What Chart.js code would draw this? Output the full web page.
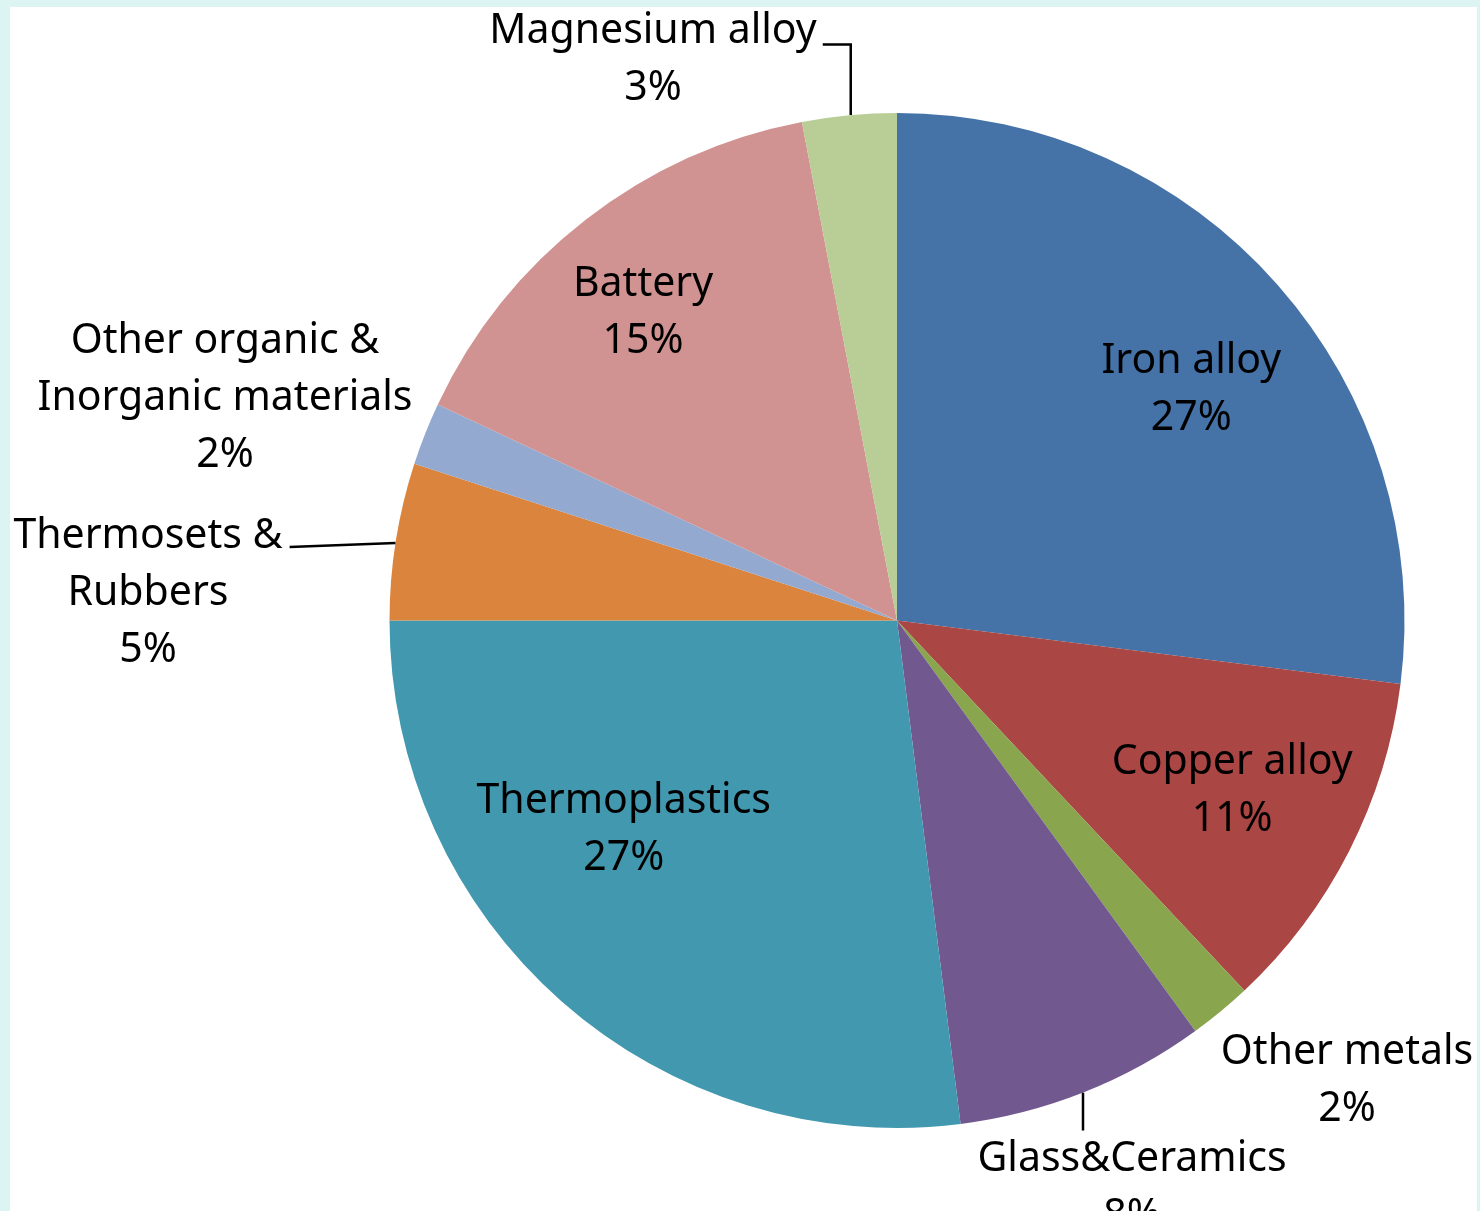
<!DOCTYPE html>
<html>
<head>
<meta charset="utf-8">
<title>Material composition</title>
<script src="https://cdn.jsdelivr.net/npm/chart.js@4.4.1/dist/chart.umd.min.js"></script>
<style>
    html, body { margin: 0; padding: 0; background: #ddf5f2; overflow: hidden; }
    #frame { position: absolute; left: 10px; top: 7px; width: 1467px; height: 1204px; background: #fff; }
    #wrap { position: absolute; left: 0; top: 0; width: 1480px; height: 1211px; }
</style>
</head>
<body>
<div id="frame"></div>
<div id="wrap"><canvas id="pieChart"></canvas></div>
<script>
// --- data ---
const materials = ['Iron alloy', 'Copper alloy', 'Other metals', 'Glass&Ceramics', 'Thermoplastics',
    'Thermosets & Rubbers', 'Other organic & Inorganic materials', 'Battery', 'Magnesium alloy'];
const shares = [27, 11, 2, 8, 27, 5, 2, 15, 3];
const sliceColors = ['#4572a7', '#aa4643', '#89a54e', '#71588f', '#4198af', '#db843d', '#93a9cf', '#d19392', '#b9cd96'];

// how each label is split over lines (the percent goes on its own last line)
const labelLines = [
    ['Iron alloy'], ['Copper alloy'], ['Other metals'], ['Glass&Ceramics'], ['Thermoplastics'],
    ['Thermosets &', 'Rubbers'], ['Other organic &', 'Inorganic materials'], ['Battery'], ['Magnesium alloy']
];

// label placement: inside ones follow the arc, outside ones sit at fixed spots
const placement = [
    { inside: true, frac: 0.74, shift: 3 },
    { inside: true, frac: 0.738, shift: -0.5 },
    { x: 1347, y: 1078 },
    { x: 1132, y: 1185, leader: 'down' },
    { inside: true, frac: 0.675, shift: 11.5 },
    { x: 148, y: 590, leader: 'left' },
    { x: 225, y: 395 },
    { inside: true, frac: 0.79, shift: -1.5 },
    { x: 653, y: 57, leader: 'up' }
];

const FONT = '41px "Noto Sans"';
const LINE_H = 57;
const TEXT_DY = 3; // Noto's em box sits a little high against the old Calibri text

const labelPlugin = {
    id: 'sliceLabels',
    afterDatasetsDraw(chart) {
        const ctx = chart.ctx;
        const arcs = chart.getDatasetMeta(0).data;
        ctx.save();
        ctx.font = FONT;
        ctx.fillStyle = '#000';
        ctx.textAlign = 'center';
        ctx.textBaseline = 'middle';
        ctx.strokeStyle = '#000';
        ctx.lineWidth = 2.5;

        arcs.forEach((arc, i) => {
            const { x, y, startAngle, endAngle, outerRadius } = arc.getProps(['x', 'y', 'startAngle', 'endAngle', 'outerRadius'], true);
            const lines = labelLines[i].concat([shares[i] + '%']);
            const p = placement[i];
            let cx, cy;
            if (p.inside) {
                const a = (startAngle + endAngle) / 2 + p.shift * Math.PI / 180;
                cx = x + Math.cos(a) * outerRadius * p.frac;
                cy = y + Math.sin(a) * outerRadius * p.frac;
            } else {
                cx = p.x;
                cy = p.y;
            }
            const top = cy - (lines.length - 1) * LINE_H / 2 + TEXT_DY;
            lines.forEach((t, k) => ctx.fillText(t, cx, top + k * LINE_H));

            // leader lines from the text to the rim
            if (p.leader) {
                const w = ctx.measureText(lines[0]).width;
                ctx.beginPath();
                if (p.leader === 'up') {
                    const lx = cx + w / 2 + 6, ly = top + 13;
                    const ex = lx + 28;
                    const ey = y - Math.sqrt(outerRadius * outerRadius - (ex - x) * (ex - x));
                    ctx.moveTo(lx, ly); ctx.lineTo(ex, ly); ctx.lineTo(ex, ey);
                } else if (p.leader === 'left') {
                    const lx = cx + w / 2 + 7, ly = top + 11;
                    const ey = ly - 4;
                    const ex = x - Math.sqrt(outerRadius * outerRadius - (ey - y) * (ey - y));
                    ctx.moveTo(lx, ly); ctx.lineTo(ex, ey);
                } else if (p.leader === 'down') {
                    const lx = cx - 49;
                    const ey = y + Math.sqrt(outerRadius * outerRadius - (lx - x) * (lx - x));
                    ctx.moveTo(lx, ey); ctx.lineTo(lx, top - 29);
                }
                ctx.stroke();
            }
        });
        ctx.restore();
    }
};

new Chart(document.getElementById('pieChart'), {
    type: 'pie',
    data: {
        labels: materials,
        datasets: [{
            data: shares,
            backgroundColor: sliceColors,
            borderWidth: 0,
            hoverOffset: 0
        }]
    },
    options: {
        responsive: true,
        maintainAspectRatio: false,
        animation: false,
        layout: { padding: { left: 389, right: 75, top: 113, bottom: 83 } },
        plugins: { legend: { display: false }, tooltip: { enabled: false } }
    },
    plugins: [labelPlugin]
});
</script>
</body>
</html>
